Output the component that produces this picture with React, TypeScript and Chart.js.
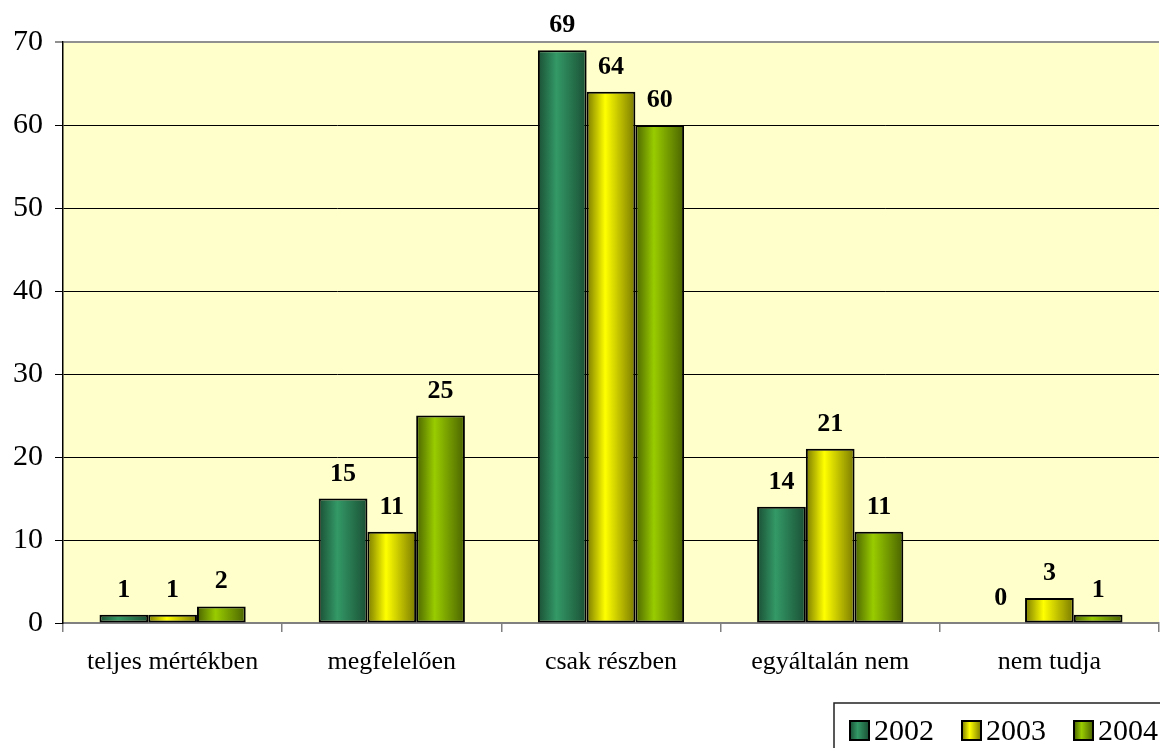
import React, { useEffect, useRef } from 'react';
import { Chart, registerables } from 'chart.js';

Chart.register(...registerables);

const categories = ['teljes mértékben', 'megfelelően', 'csak részben', 'egyáltalán nem', 'nem tudja'];
const seriesLabels = ['2002', '2003', '2004'];
const values2002 = [1, 15, 69, 14, 0];
const values2003 = [1, 11, 64, 21, 3];
const values2004 = [2, 25, 60, 11, 1];
const centerColors = ['#339966', '#FFFF00', '#99CC00'];
const edgeColors = ['#1A4F35', '#7A7A00', '#4A6300'];
const yMin = 0;
const yMax = 70;
const yStep = 10;

const FONT = '"Liberation Serif", "Times New Roman", serif';

const plotBg = {
  id: 'plotBg',
  beforeDraw(chart: any) {
    const { ctx, chartArea } = chart;
    ctx.save();
    ctx.fillStyle = '#FFFFCC';
    ctx.fillRect(chartArea.left, chartArea.top, chartArea.right - chartArea.left, chartArea.bottom - chartArea.top);
    ctx.restore();
  },
};

const barGradient = {
  id: 'barGradient',
  beforeDatasetsDraw(chart: any) {
    const ctx = chart.ctx;
    chart.data.datasets.forEach((ds: any, di: number) => {
      const meta = chart.getDatasetMeta(di);
      meta.data.forEach((bar: any) => {
        const w = bar.width;
        const x0 = bar.x - w / 2;
        const g = ctx.createLinearGradient(x0, 0, x0 + w, 0);
        g.addColorStop(0, edgeColors[di]);
        g.addColorStop(0.38, centerColors[di]);
        g.addColorStop(1, edgeColors[di]);
        if (bar.options && !Object.isFrozen(bar.options)) bar.options.backgroundColor = g;
      });
    });
  },
};

const valueLabels = {
  id: 'valueLabels',
  afterDatasetsDraw(chart: any) {
    const ctx = chart.ctx;
    ctx.save();
    ctx.font = `bold 26px ${FONT}`;
    ctx.fillStyle = '#000';
    ctx.textAlign = 'center';
    ctx.textBaseline = 'alphabetic';
    chart.data.datasets.forEach((ds: any, di: number) => {
      const meta = chart.getDatasetMeta(di);
      meta.data.forEach((bar: any, i: number) => {
        ctx.fillText(String(ds.data[i]), bar.x, bar.y - 18);
      });
    });
    ctx.restore();
  },
};

// Legend drawn in the reserved bottom band (layout.padding.bottom)
const boxLegend = {
  id: 'boxLegend',
  afterDraw(chart: any) {
    const ctx = chart.ctx;
    const datasets = chart.data.datasets;
    ctx.save();
    ctx.font = `30px ${FONT}`;
    ctx.textBaseline = 'alphabetic';
    ctx.textAlign = 'left';
    const sw = 19;
    const gapBoxText = 5;
    const gapItems = 28;
    const widths = datasets.map((d: any) => ctx.measureText(d.label).width);
    const total = widths.reduce((a: number, w: number) => a + sw + gapBoxText + w, 0) + gapItems * (datasets.length - 1);
    let x = chart.width - 2 - total;
    const bandTop = chart.height - 45;
    const boxTop = bandTop + 18;
    ctx.strokeStyle = '#222';
    ctx.lineWidth = 1.5;
    ctx.strokeRect(x - 16, bandTop, 600, 200);
    datasets.forEach((d: any, i: number) => {
      const g = ctx.createLinearGradient(x, 0, x + sw, 0);
      g.addColorStop(0, edgeColors[i]);
      g.addColorStop(0.4, centerColors[i]);
      g.addColorStop(1, edgeColors[i]);
      ctx.fillStyle = g;
      ctx.fillRect(x, boxTop, sw, sw);
      ctx.strokeStyle = '#000';
      ctx.lineWidth = 2;
      ctx.strokeRect(x, boxTop, sw, sw);
      ctx.fillStyle = '#000';
      ctx.fillText(d.label, x + sw + gapBoxText, boxTop + sw);
      x += sw + gapBoxText + widths[i] + gapItems;
    });
    ctx.restore();
  },
};

export default function App() {
  const ref = useRef<HTMLCanvasElement | null>(null);
  useEffect(() => {
    if (!ref.current) return;
    const series = [values2002, values2003, values2004];
    const chart = new Chart(ref.current, {
      type: 'bar',
      data: {
        labels: categories,
        datasets: series.map((vals, di) => ({
          label: seriesLabels[di],
          data: vals,
          backgroundColor: () => centerColors[di],
          borderColor: '#000',
          borderWidth: 2,
          borderSkipped: false,
          categoryPercentage: 0.667,
          barPercentage: 1,
        })),
      },
      options: {
        animation: false,
        responsive: true,
        maintainAspectRatio: false,
        devicePixelRatio: 1,
        layout: { padding: { top: 42, right: 1, left: 0, bottom: 45 } },
        plugins: {
          tooltip: { enabled: false },
          legend: { display: false },
        },
        scales: {
          x: {
            offset: true,
            grid: {
              display: true,
              offset: true,
              drawOnChartArea: false,
              drawTicks: true,
              tickLength: 9,
              color: '#808080',
              lineWidth: 1.5,
            },
            border: { display: true, color: '#808080', width: 2 },
            ticks: {
              color: '#000',
              font: { family: FONT, size: 26 },
              padding: 15,
              maxRotation: 0,
              autoSkip: false,
            },
            afterFit: (s: any) => {
              s.height = 80;
            },
          },
          y: {
            min: yMin,
            max: yMax,
            ticks: {
              stepSize: yStep,
              color: '#000',
              font: { family: FONT, size: 30 },
              padding: 12,
            },
            grid: {
              color: (c: any) => (c.tick && c.tick.value === yMax ? '#909090' : '#000'),
              lineWidth: (c: any) => (c.tick && c.tick.value === yMax ? 2 : 1),
              tickLength: 8,
              drawTicks: true,
            },
            border: { display: true, color: '#000', width: 1.5 },
            afterFit: (s: any) => {
              s.width = 63;
            },
          },
        },
      },
      plugins: [plotBg, barGradient, valueLabels, boxLegend],
    });
    return () => chart.destroy();
  }, []);
  return (
    <div style={{ position: 'fixed', left: 0, top: 0, width: 1160, height: 748, background: '#fff' }}>
      <canvas ref={ref} />
    </div>
  );
}
